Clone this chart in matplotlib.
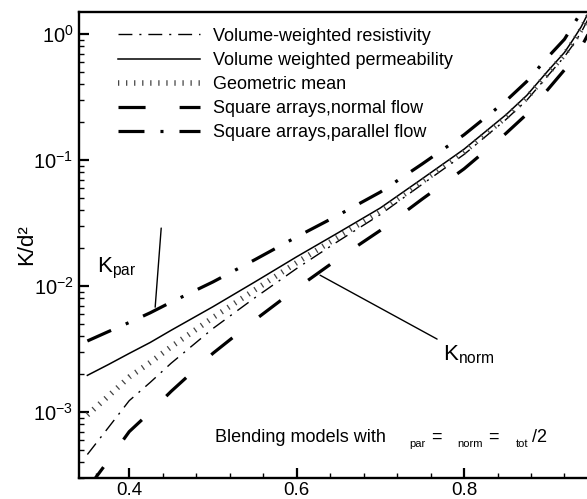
import matplotlib
matplotlib.use('Agg')
import matplotlib.pyplot as plt
from matplotlib.ticker import MultipleLocator, LogLocator, NullFormatter

plt.rcParams['font.family'] = ['Liberation Sans', 'DejaVu Sans']
plt.rcParams['mathtext.fontset'] = 'custom'
plt.rcParams['mathtext.rm'] = 'Liberation Sans'
plt.rcParams['mathtext.it'] = 'Liberation Sans:italic'
plt.rcParams['axes.unicode_minus'] = False
plt.rcParams['lines.scale_dashes'] = False

# porosity values and permeabilities
phi = [0.35, 0.375, 0.40, 0.425, 0.45, 0.50, 0.55, 0.60, 0.65, 0.70, 0.75, 0.80, 0.85,
       0.875, 0.90, 0.92, 0.93, 0.94, 0.95]
k_res = [4.61e-4, 7.53e-4, 1.233e-3, 1.72e-3, 2.442e-3, 4.609e-3, 8.078e-3, 1.38e-2,
         2.282e-2, 3.702e-2, 6.434e-2, 0.111, 0.21, 0.2994, 0.4674, 0.6632, 0.819, 1.035, 1.389]
k_perm = [1.958e-3, 2.384e-3, 2.925e-3, 3.57e-3, 4.46e-3, 6.865e-3, 1.079e-2, 1.71e-2,
          2.663e-2, 4.175e-2, 7.12e-2, 0.1222, 0.229, 0.327, 0.5095, 0.7165, 0.90, 1.145, 1.55]
k_geo = [9.50e-4, 1.339e-3, 1.899e-3, 2.478e-3, 3.30e-3, 5.625e-3, 9.336e-3, 1.536e-2,
         2.465e-2, 3.932e-2, 6.768e-2, 0.1165, 0.2193, 0.3129, 0.488, 0.6893, 0.8585, 1.0886, 1.467]
k_norm = [2.46e-4, 4.12e-4, 7.0e-4, 1.0e-3, 1.46e-3, 2.93e-3, 5.38e-3, 9.59e-3,
          1.656e-2, 2.77e-2, 4.91e-2, 8.53e-2, 0.163, 0.232, 0.363, 0.521, 0.63, 0.79, 1.05]
k_par = [3.67e-3, 4.355e-3, 5.15e-3, 6.14e-3, 7.46e-3, 1.08e-2, 1.62e-2, 2.46e-2,
         3.67e-2, 5.58e-2, 9.33e-2, 0.159, 0.295, 0.422, 0.656, 0.912, 1.17, 1.5, 2.05]

labels = ['Volume-weighted resistivity', 'Volume weighted permeability', 'Geometric mean',
          'Square arrays,normal flow', 'Square arrays,parallel flow']
xticks = [0.4, 0.6, 0.8]

fig = plt.figure(figsize=(5.87, 4.99), dpi=100)
ax = fig.add_axes([79 / 587, 21 / 499, 510.6 / 587, 466 / 499])

ax.plot(phi, k_res, color='black', lw=1.0, dashes=(10, 5, 1.5, 5), label=labels[0])
ax.plot(phi, k_perm, color='black', lw=1.1, label=labels[1])
ax.plot(phi, k_geo, color='#444444', lw=4.0, dashes=(0.9, 4.9), solid_capstyle='butt',
        dash_capstyle='butt', label=labels[2])
ax.plot(phi, k_norm, color='black', lw=2.3, dashes=(19.5, 24.5), dash_capstyle='butt',
        label=labels[3])
ax.plot(phi, k_par, color='black', lw=2.3, dashes=(18.7, 11.5, 2.2, 11.5),
        dash_capstyle='butt', label=labels[4])

ax.set_yscale('log')
ax.set_xlim(0.34, 0.95)
ax.set_ylim(3e-4, 1.5)
ax.set_xticks(xticks)
ax.xaxis.set_minor_locator(MultipleLocator(0.04))
ax.yaxis.set_major_locator(LogLocator(base=10))
ax.yaxis.set_minor_locator(LogLocator(base=10, subs=range(2, 10)))
ax.yaxis.set_minor_formatter(NullFormatter())
ax.tick_params(which='major', direction='in', length=7, width=1.6)
ax.tick_params(which='minor', direction='in', length=3.8, width=1.0)
ax.tick_params(axis='x', which='major', pad=3, labelsize=13.5)
ax.tick_params(axis='y', which='major', pad=4, labelsize=14.5)
ax.tick_params(top=False, right=False, which='both')
for s in ax.spines.values():
    s.set_linewidth(1.7)
ax.spines['right'].set_visible(False)

ax.set_ylabel('K/d²', fontsize=16, labelpad=-3)

ax.legend(loc='upper left', bbox_to_anchor=(0.0764, 0.9665), frameon=False, fontsize=13,
          handlelength=4.55, handletextpad=0.72, labelspacing=0.40, borderpad=0,
          borderaxespad=0)

# labels with pointer lines
ax.text(0.3618, 0.0129, 'K$_{\\mathrm{par}}$', fontsize=16)
ax.annotate('', xy=(0.431, 6.81e-3), xytext=(0.4382, 0.0289),
            arrowprops=dict(arrowstyle='-', lw=1.0, color='black', shrinkA=0, shrinkB=0))
ax.text(0.7749, 2.59e-3, 'K$_{\\mathrm{norm}}$', fontsize=16)
ax.annotate('', xy=(0.628, 0.01222), xytext=(0.7678, 3.80e-3),
            arrowprops=dict(arrowstyle='-', lw=1.0, color='black', shrinkA=0, shrinkB=0))

# caption inside the axes
tr = ax.transAxes
ax.text(0.2663, 0.0773, 'Blending models with', fontsize=13, transform=tr)
ax.text(0.6463, 0.0665, 'par', fontsize=8, transform=tr)
ax.text(0.6894, 0.0773, '=', fontsize=13, transform=tr)
ax.text(0.7403, 0.0665, 'norm', fontsize=8, transform=tr)
ax.text(0.8010, 0.0773, '=', fontsize=13, transform=tr)
ax.text(0.8558, 0.0665, 'tot', fontsize=8, transform=tr)
ax.text(0.8872, 0.0773, '/2', fontsize=13, transform=tr)

fig.savefig('out.png', dpi=100)
